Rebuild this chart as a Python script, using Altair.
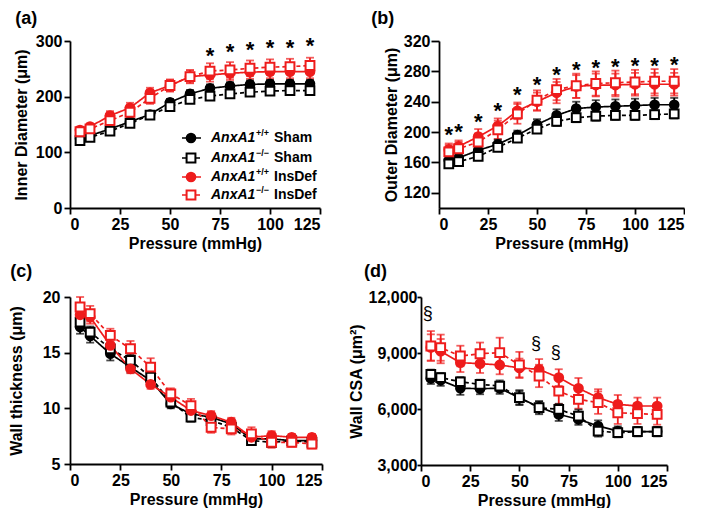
import altair as alt
import pandas as pd

FONT = "Liberation Sans"
RED = "#ee1c1c"

PRESSURE = [5, 10, 20, 30, 40, 50, 60, 70, 80, 90, 100, 110, 120]
SERIES = ["AnxA1+/+ Sham", "AnxA1-/- Sham", "AnxA1+/+ InsDef", "AnxA1-/- InsDef"]
LEGEND_SUP = ["+/+", "\u2212/\u2212", "+/+", "\u2212/\u2212"]
LEGEND_GROUP = ["Sham", "Sham", "InsDef", "InsDef"]

# (a) Inner diameter (µm)
A_WT_SHAM = [125, 130, 142, 155, 168, 190, 205, 215, 219, 222, 223, 223, 223]
A_WT_SHAM_SEM = [5, 5, 6, 6, 6, 6, 7, 7, 7, 7, 7, 7, 7]
A_KO_SHAM = [121, 127, 138, 152, 167, 182, 195, 201, 205, 208, 210, 211, 211]
A_KO_SHAM_SEM = [4, 4, 5, 5, 5, 5, 6, 6, 6, 6, 6, 6, 6]
A_WT_INS = [140, 146, 166, 180, 207, 220, 236, 239, 242, 244, 245, 245, 245]
A_WT_INS_SEM = [6, 6, 8, 9, 9, 10, 11, 12, 12, 12, 12, 12, 12]
A_KO_INS = [137, 142, 157, 172, 197, 220, 236, 246, 248, 251, 253, 254, 256]
A_KO_INS_SEM = [7, 7, 9, 10, 10, 11, 12, 14, 14, 14, 14, 14, 14]
A_STAR_P = [70, 80, 90, 100, 110, 120]
A_STAR_Y = [282, 289, 293, 297, 297, 300]

# (b) Outer diameter (µm)
B_WT_SHAM = [163, 166, 176, 184, 196, 210, 222, 231, 233, 234, 235, 236, 236]
B_WT_SHAM_SEM = [5, 5, 6, 6, 6, 7, 8, 9, 9, 9, 9, 9, 9]
B_KO_SHAM = [158, 161, 168, 180, 192, 204, 214, 219, 221, 222, 222, 223, 224]
B_KO_SHAM_SEM = [4, 4, 5, 5, 5, 5, 6, 6, 6, 6, 6, 6, 6]
B_WT_INS = [177, 181, 194, 208, 228, 240, 252, 260, 262, 262, 263, 263, 263]
B_WT_INS_SEM = [8, 8, 10, 10, 11, 12, 14, 15, 15, 15, 15, 15, 15]
B_KO_INS = [174, 178, 187, 203, 224, 242, 256, 261, 264, 265, 266, 267, 267]
B_KO_INS_SEM = [9, 9, 11, 12, 13, 13, 14, 16, 16, 16, 16, 16, 16]
B_STAR_P = [5, 10, 20, 30, 40, 50, 60, 70, 80, 90, 100, 110, 120]
B_STAR_Y = [203, 207, 220, 235, 255, 268, 282, 289, 291, 292, 294, 294, 295]

# (c) Wall thickness (µm)
C_WT_SHAM = [17.3, 16.5, 14.9, 13.7, 12.5, 10.4, 9.5, 9.2, 8.6, 7.25, 7.25, 7.1, 7.1]
C_WT_SHAM_SEM = [0.6, 0.6, 0.6, 0.5, 0.5, 0.4, 0.4, 0.4, 0.4, 0.3, 0.3, 0.3, 0.3]
C_KO_SHAM = [17.75, 16.85, 15.35, 14.3, 12.8, 10.55, 9.2, 8.9, 8.3, 7.1, 6.95, 7.1, 6.95]
C_KO_SHAM_SEM = [0.5, 0.5, 0.5, 0.5, 0.5, 0.4, 0.4, 0.4, 0.4, 0.3, 0.3, 0.3, 0.3]
C_WT_INS = [18.4, 18.2, 15.65, 13.55, 12.15, 11.0, 9.8, 9.35, 8.75, 7.4, 7.55, 7.4, 7.4]
C_WT_INS_SEM = [0.6, 0.6, 0.5, 0.4, 0.4, 0.4, 0.4, 0.4, 0.4, 0.4, 0.4, 0.3, 0.3]
C_KO_INS = [19.1, 18.5, 16.55, 15.35, 13.7, 11.3, 10.25, 8.3, 8.15, 7.7, 6.95, 6.95, 6.8]
C_KO_INS_SEM = [0.9, 0.7, 0.6, 0.7, 0.8, 0.5, 0.6, 0.5, 0.5, 0.6, 0.5, 0.4, 0.4]

# (d) Wall CSA (µm²)
D_WT_SHAM = [7640, 7540, 7110, 7090, 7110, 6600, 6100, 5710, 5450, 5090, 4820, 4790, 4790]
D_WT_SHAM_SEM = [300, 300, 350, 300, 300, 350, 300, 350, 300, 300, 250, 250, 250]
D_KO_SHAM = [7860, 7680, 7460, 7320, 7230, 6610, 6070, 5980, 5620, 4820, 4730, 4790, 4790]
D_KO_SHAM_SEM = [250, 250, 250, 250, 300, 400, 350, 300, 350, 300, 250, 250, 250]
D_WT_INS = [9300, 9100, 8480, 8430, 8360, 8200, 8125, 7680, 7110, 6610, 6250, 6160, 6160]
D_WT_INS_SEM = [700, 650, 500, 500, 500, 500, 550, 450, 550, 450, 500, 450, 450]
D_KO_INS = [9375, 9285, 8840, 8960, 9020, 8360, 7770, 6960, 6520, 6340, 5800, 5750, 5710]
D_KO_INS_SEM = [800, 700, 550, 600, 800, 700, 600, 700, 500, 600, 600, 550, 550]
D_MARK_P = [5, 60, 70]
D_MARK_Y = [11070, 9460, 9020]


def long_df(means, sems):
    rows = []
    for s, m, e in zip(SERIES, means, sems):
        for p, v, err in zip(PRESSURE, m, e):
            rows.append({"P": p, "v": v, "lo": v - err, "hi": v + err, "series": s})
    return pd.DataFrame(rows)


stroke_scale = alt.Scale(domain=SERIES, range=["black", "black", RED, RED])
fill_scale = alt.Scale(domain=SERIES, range=["black", "white", RED, "white"])
shape_scale = alt.Scale(domain=SERIES, range=["circle", "square", "circle", "square"])
dash_scale = alt.Scale(domain=SERIES, range=[[1, 0], [4, 3], [1, 0], [4, 3]])
size_scale = alt.Scale(domain=SERIES, range=[75, 78, 75, 78])


def panel(df, label, y_title, y_domain, y_values, y_format, title_dx, title_offset,
          tick_size, label_pad, title_pad, width, height, marks_df=None,
          mark_text="*", mark_size=22, mark_weight="bold", mark_dy=5, mark_dx=0,
          legend=False):
    xscale = alt.Scale(domain=[0, 125], nice=False)
    xaxis = alt.Axis(values=[0, 25, 50, 75, 100, 125], title="Pressure (mmHg)",
                     tickSize=6, labelPadding=2, titlePadding=3, labelOverlap=False)
    x = alt.X("P:Q", scale=xscale, axis=xaxis)
    yaxis = alt.Axis(values=y_values, format=y_format, title=y_title, labelOverlap=False,
                     tickSize=tick_size, labelPadding=label_pad, titlePadding=title_pad)
    yscale = alt.Scale(domain=y_domain, nice=False, zero=False)
    y = alt.Y("v:Q", scale=yscale, axis=yaxis)
    base = alt.Chart(df)
    stroke = alt.Stroke("series:N", scale=stroke_scale, legend=None)
    lines = base.mark_line(strokeWidth=1.7).encode(
        x=x, y=y, stroke=stroke,
        strokeDash=alt.StrokeDash("series:N", scale=dash_scale, legend=None))
    bars = base.mark_rule(strokeWidth=1.8).encode(
        x=x, y=alt.Y("lo:Q", scale=yscale, axis=yaxis), y2="hi:Q", stroke=stroke)
    cap_lo = base.mark_tick(orient="horizontal", size=8, thickness=1.8).encode(
        x=x, y=alt.Y("lo:Q", scale=yscale, axis=yaxis),
        color=alt.Color("series:N", scale=stroke_scale, legend=None))
    cap_hi = base.mark_tick(orient="horizontal", size=8, thickness=1.8).encode(
        x=x, y=alt.Y("hi:Q", scale=yscale, axis=yaxis),
        color=alt.Color("series:N", scale=stroke_scale, legend=None))
    pts = base.mark_point(strokeWidth=2, opacity=1, fillOpacity=1).encode(
        x=x, y=y, stroke=stroke,
        fill=alt.Fill("series:N", scale=fill_scale, legend=None),
        shape=alt.Shape("series:N", scale=shape_scale, legend=None),
        size=alt.Size("series:N", scale=size_scale, legend=None))
    layers = [lines, bars, cap_lo, cap_hi, pts]
    if marks_df is not None:
        layers.append(alt.Chart(marks_df).mark_text(
            text=mark_text, font=FONT, fontSize=mark_size, fontWeight=mark_weight,
            color="black", baseline="middle", align="center", dy=mark_dy, dx=mark_dx
        ).encode(x=x, y=y))
    if legend:
        one = pd.DataFrame({"k": [0]})
        rows_y = [97, 117, 136, 154]
        for i, s in enumerate(SERIES):
            yy = rows_y[i]
            dashed = i in (1, 3)
            col = "black" if i < 2 else RED
            layers.append(alt.Chart(one).mark_rule(
                strokeWidth=1.7, color=col, strokeDash=[4, 3] if dashed else [1, 0]
            ).encode(x=alt.value(112), x2=alt.value(131), y=alt.value(yy)))
            layers.append(alt.Chart(one).mark_point(
                shape="square" if dashed else "circle", size=78 if dashed else 75,
                strokeWidth=2, opacity=1, fillOpacity=1, stroke=col,
                fill="white" if dashed else col
            ).encode(x=alt.value(121), y=alt.value(yy)))
            layers.append(alt.Chart(one).mark_text(
                text="AnxA1", font=FONT, fontSize=14, fontStyle="italic", fontWeight="bold",
                color="black", align="left", baseline="middle"
            ).encode(x=alt.value(141), y=alt.value(yy)))
            layers.append(alt.Chart(one).mark_text(
                text=LEGEND_SUP[i], font=FONT, fontSize=9, fontWeight="bold",
                color="black", align="left", baseline="middle"
            ).encode(x=alt.value(186), y=alt.value(yy - 5)))
            layers.append(alt.Chart(one).mark_text(
                text=LEGEND_GROUP[i], font=FONT, fontSize=14, fontWeight="bold",
                color="black", align="left", baseline="middle"
            ).encode(x=alt.value(204), y=alt.value(yy)))
    return alt.layer(*layers).properties(
        width=width, height=height,
        title=alt.TitleParams(label, anchor="start", fontSize=18, fontWeight="bold",
                              font=FONT, color="black", dx=title_dx, offset=title_offset))


df_a = long_df([A_WT_SHAM, A_KO_SHAM, A_WT_INS, A_KO_INS],
               [A_WT_SHAM_SEM, A_KO_SHAM_SEM, A_WT_INS_SEM, A_KO_INS_SEM])
df_b = long_df([B_WT_SHAM, B_KO_SHAM, B_WT_INS, B_KO_INS],
               [B_WT_SHAM_SEM, B_KO_SHAM_SEM, B_WT_INS_SEM, B_KO_INS_SEM])
df_c = long_df([C_WT_SHAM, C_KO_SHAM, C_WT_INS, C_KO_INS],
               [C_WT_SHAM_SEM, C_KO_SHAM_SEM, C_WT_INS_SEM, C_KO_INS_SEM])
df_d = long_df([D_WT_SHAM, D_KO_SHAM, D_WT_INS, D_KO_INS],
               [D_WT_SHAM_SEM, D_KO_SHAM_SEM, D_WT_INS_SEM, D_KO_INS_SEM])

stars_a = pd.DataFrame({"P": A_STAR_P, "v": A_STAR_Y})
stars_b = pd.DataFrame({"P": B_STAR_P, "v": B_STAR_Y})
marks_d = pd.DataFrame({"P": D_MARK_P, "v": D_MARK_Y})

pa = panel(df_a, "(a)", "Inner Diameter (\u03bcm)", [0, 300], [0, 100, 200, 300], "d",
           2, 5, 6, 2, 6, 250, 167, marks_df=stars_a, legend=True)
pb = panel(df_b, "(b)", "Outer Diameter (\u03bcm)", [100, 320], [120, 160, 200, 240, 280, 320], "d",
           -12, 5, 8, 1, 4, 245, 167, marks_df=stars_b)
pc = panel(df_c, "(c)", "Wall thickness (\u03bcm)", [5, 20], [5, 10, 15, 20], "d",
           2, 8, 6, 4, 18, 252, 167)
pd_ = panel(df_d, "(d)", "Wall CSA (\u03bcm\u00b2)", [3000, 12000], [3000, 6000, 9000, 12000], ",d",
            16, 8, 4, 0, 4, 246, 168, marks_df=marks_d, mark_text="\u00a7", mark_size=18,
            mark_weight="normal", mark_dy=0, mark_dx=-3)

row1 = alt.hconcat(pa, pb, spacing=50)
row2 = alt.hconcat(pc, pd_, spacing=25)

chart = alt.vconcat(row1, row2, spacing=12).properties(
    padding={"left": 0, "top": 2, "right": 0, "bottom": 0}
).configure_view(stroke=None).configure_axis(
    domainColor="black", domainWidth=1.8, tickColor="black", tickWidth=1.8,
    labelFont=FONT, labelFontSize=16, labelFontWeight="bold", labelColor="black",
    titleFont=FONT, titleFontSize=16, titleFontWeight="bold", titleColor="black",
    grid=False, labelOverlap=False
)

chart.save("out.html", embed_options={"renderer": "svg", "actions": False})
